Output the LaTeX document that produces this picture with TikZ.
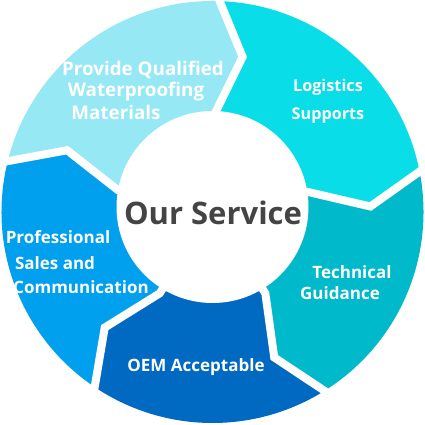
\documentclass[tikz,border=0pt]{standalone}
\usepackage{fontspec}
\setmainfont{Open Sans}
\usetikzlibrary{calc}
\begin{document}
\begin{tikzpicture}[x=1pt,y=1pt,
  lbl/.style={text=white,font=\bfseries\fontsize{17}{20}\selectfont,inner sep=0pt,anchor=center},
  lblbig/.style={lbl,font=\bfseries\fontsize{18.8}{22}\selectfont},
  lblsmall/.style={lbl,font=\bfseries\fontsize{16.2}{19}\selectfont},
  gap/.style={draw=white,line width=8pt,line join=miter}]
\definecolor{cA}{HTML}{96E8F4}
\definecolor{cB}{HTML}{08DDE8}
\definecolor{cC}{HTML}{00B9CB}
\definecolor{cD}{HTML}{0069C2}
\definecolor{cE}{HTML}{01A0EF}
\definecolor{ctext}{HTML}{444444}
\useasboundingbox (0,0) rectangle (425,425);
\coordinate (C) at (212.5,213);
\def\R{211}\def\T{158}\def\I{97}\def\J{50}
% segment: #1 colour, #2 start angle, #3 end angle (clockwise)
\newcommand{\segfill}[3]{%
  \pgfmathsetmacro{\bt}{#2-10}\pgfmathsetmacro{\et}{#3-10}%
  \fill[#1] ($(C)+(#2:\R)$) arc[start angle=#2,end angle=#3,radius=\R]
     -- ($(C)+(\et:\T)$) -- ($(C)+(#3:\I)$) -- ($(C)+(#3:\J)$)
     arc[start angle=#3,end angle=#2,radius=\J]
     -- ($(C)+(#2:\I)$) -- ($(C)+(\bt:\T)$) -- cycle;}
\newcommand{\segline}[1]{%
  \pgfmathsetmacro{\bt}{#1-10}%
  \draw[gap] ($(C)+(#1:\R+8)$) -- ($(C)+(\bt:\T)$) -- ($(C)+(#1:\I)$) -- ($(C)+(#1:70)$);}
\segfill{cA}{167}{89}
\segfill{cB}{89}{12}
\segfill{cC}{12}{-57}
\segfill{cD}{-57}{-123}
\segfill{cE}{-123}{-193}
\segline{89}\segline{12}\segline{-57}\segline{-123}\segline{167}
\fill[white] (212.5,218) circle[radius=96];
\node[font=\bfseries\fontsize{31}{36}\selectfont,text=ctext,inner sep=0pt] (center) at (213,212) {Our Service};
\node[lblbig] (p1) at (143,355) {Provide Qualified};
\node[lblbig] (p2) at (136,333) {Waterproofing};
\node[lblbig] (p3) at (116,313) {Materials};
\node[lblsmall] (l1) at (328,338) {Logistics};
\node[lblsmall] (l2) at (328,309) {Supports};
\node[lbl] (t1) at (352,153) {Technical};
\node[lbl] (t2) at (340,132) {Guidance};
\node[lbl] (o1) at (196,58) {OEM Acceptable};
\node[lbl] (s1) at (58,188) {Professional};
\node[lbl] (s2) at (55,162) {Sales and};
\node[lbl] (s3) at (81,138) {Communication};
\end{tikzpicture}
\end{document}
